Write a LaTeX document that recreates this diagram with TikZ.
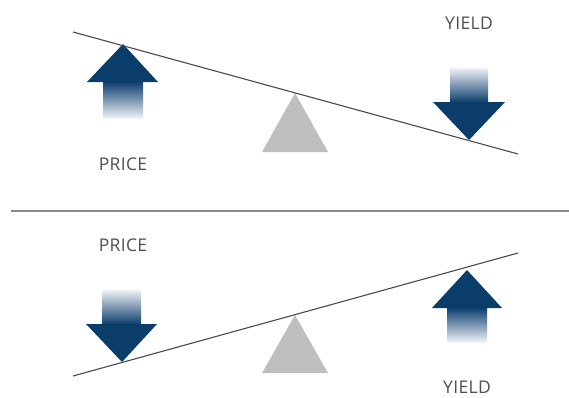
\documentclass[tikz,border=0pt]{standalone}
\usepackage{fontspec}
\setmainfont{Open Sans}[LetterSpace=2]
\definecolor{arrowblue}{HTML}{0B3D6B}
\definecolor{paleblue}{HTML}{EEF1F7}
\definecolor{beamgray}{HTML}{4A4A4A}
\definecolor{fulcrum}{HTML}{BFBFBF}
\definecolor{labelgray}{HTML}{505050}
\definecolor{divgray}{HTML}{8A8A8A}
\tikzset{
  beam/.style={draw=beamgray, line width=1.1pt},
  pivot/.style={fill=fulcrum, draw=none},
  headfill/.style={fill=arrowblue, draw=none},
  lbl/.style={text=labelgray, font=\fontsize{17.5}{19}\selectfont, inner sep=0pt}
}
\begin{document}
\begin{tikzpicture}[x=1pt,y=-1pt]
\useasboundingbox (0,0) rectangle (569,397);
% divider
\draw[divgray, line width=1.3pt] (11,211) -- (569,211);
% ---------- top panel ----------
\coordinate (t1) at (73,32);
\coordinate (t2) at (518,154);
\fill[pivot] (295,93) -- (328,152) -- (262,152) -- cycle;
% up arrow (price)
\shade[top color=arrowblue, bottom color=paleblue, draw=none] (103,81.5) rectangle (143,118);
\fill[headfill] (123,44) -- (158,82) -- (87,82) -- cycle;
% down arrow (yield)
\shade[top color=paleblue, bottom color=arrowblue, draw=none] (450,68) rectangle (488,102.5);
\fill[headfill] (433,102) -- (505,102) -- (469,140) -- cycle;
\draw[beam] (t1) -- (t2);
\node[lbl] (p1) at (123,164) {PRICE};
\node[lbl] (y1) at (469,23) {YIELD};
% ---------- bottom panel ----------
\coordinate (b1) at (73,376);
\coordinate (b2) at (518,253);
\fill[pivot] (295,315) -- (328,373) -- (262,373) -- cycle;
% down arrow (price)
\shade[top color=paleblue, bottom color=arrowblue, draw=none] (102,290) rectangle (141,324.5);
\fill[headfill] (86,324) -- (157,324) -- (122,362) -- cycle;
% up arrow (yield)
\shade[top color=arrowblue, bottom color=paleblue, draw=none] (447,307.5) rectangle (487,342);
\fill[headfill] (467,270) -- (502,308) -- (432,308) -- cycle;
\draw[beam] (b1) -- (b2);
\node[lbl] (p2) at (123,245) {PRICE};
\node[lbl] (y2) at (467,387) {YIELD};
\end{tikzpicture}
\end{document}
